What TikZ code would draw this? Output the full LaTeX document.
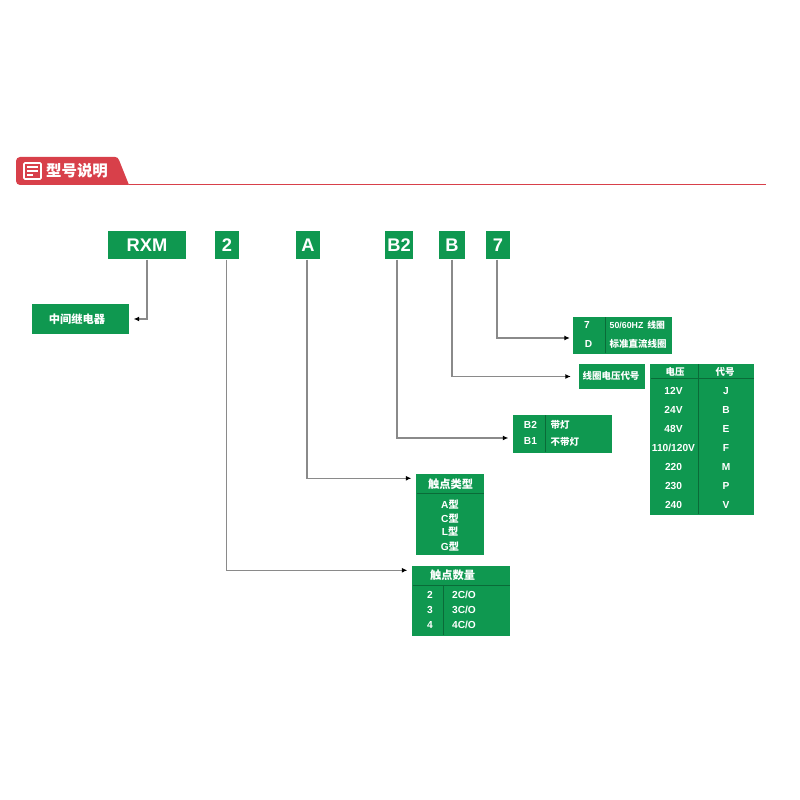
\documentclass[tikz,border=0pt]{standalone}
\usepackage{fontspec}
\setmainfont{Liberation Sans}
\newfontfamily\cjk{Noto Sans CJK SC}
\usetikzlibrary{arrows.meta}
\definecolor{boxgreen}{HTML}{0F9850}
\definecolor{rulegreen}{HTML}{0A6B38}
\definecolor{tabred}{HTML}{D8404A}
\definecolor{wiregray}{HTML}{8A8A8A}
\begin{document}
\begin{tikzpicture}[
    tag/.style={rectangle, fill=boxgreen, text=white, inner sep=0pt, minimum height=0.28cm, font=\fontsize{5.2}{6}\selectfont\bfseries},
    panel/.style={rectangle, fill=boxgreen, inner sep=0pt},
    txt/.style={text=white, inner sep=0pt, font=\fontsize{2.9}{3.4}\selectfont\bfseries},
    head/.style={text=white, inner sep=0pt, font=\fontsize{3.2}{3.8}\selectfont\cjk\bfseries},
    small/.style={text=white, inner sep=0pt, font=\fontsize{2.7}{3.2}\selectfont\cjk\bfseries},
    wire/.style={wiregray, line width=0.3pt, -{Latex[length=0.55mm,width=0.5mm,black]}, shorten >=0.04cm},
    divider/.style={rulegreen, line width=0.3pt, shorten <=0.012cm, shorten >=0.012cm}
]
\useasboundingbox (0,0) rectangle (8,8);

% Titel
\fill[tabred] (1.29,6.15) -- (0.2,6.15) to[out=180,in=-90] (0.16,6.19) -- (0.16,6.39) to[out=90,in=180] (0.2,6.43) -- (1.15,6.43) to[out=0,in=110] (1.19,6.40) -- cycle;
\draw[tabred, line width=0.45pt] (1.29,6.155) -- (7.66,6.155);
\draw[white, line width=0.45pt, rounded corners=0.01cm] (0.24,6.21) rectangle (0.41,6.37);
\draw[white, line width=0.4pt] (0.27,6.33) -- (0.38,6.33);
\draw[white, line width=0.4pt] (0.27,6.29) -- (0.38,6.29);
\draw[white, line width=0.4pt] (0.27,6.25) -- (0.33,6.25);
\node[text=white, inner sep=0pt, font=\fontsize{4.4}{5}\selectfont\cjk\bfseries] (title) at (0.77,6.29) {型号说明};

% Kopf
\node[tag, minimum width=0.775cm] (rxm) at (1.47,5.55) {RXM};
\node[tag, minimum width=0.24cm] (n2) at (2.27,5.55) {2};
\node[tag, minimum width=0.24cm] (a) at (3.08,5.55) {A};
\node[tag, minimum width=0.28cm] (b2) at (3.99,5.55) {B2};
\node[tag, minimum width=0.26cm] (b) at (4.52,5.55) {B};
\node[tag, minimum width=0.24cm] (n7) at (4.98,5.55) {7};

% Kaesten
\node[panel, minimum width=0.975cm, minimum height=0.30cm] (relay) at (0.8025,4.81) {};
\node[panel, minimum width=0.99cm, minimum height=0.37cm] (coil) at (6.225,4.645) {};
\node[panel, minimum width=0.66cm, minimum height=0.25cm] (volts) at (6.12,4.235) {};
\node[panel, minimum width=1.04cm, minimum height=1.51cm] (table) at (7.02,3.605) {};
\node[panel, minimum width=0.99cm, minimum height=0.38cm] (lamp) at (5.625,3.66) {};
\node[panel, minimum width=0.68cm, minimum height=0.81cm] (type) at (4.5,2.855) {};
\node[panel, minimum width=0.98cm, minimum height=0.70cm] (count) at (4.61,1.99) {};

% Trennlinien
\draw[divider] ([xshift=0.33cm]coil.north west) -- ([xshift=0.33cm]coil.south west);
\draw[divider] ([xshift=0.49cm]table.north west) -- ([xshift=0.49cm]table.south west);
\draw[divider] ([yshift=-0.15cm]table.north west) -- ([yshift=-0.15cm]table.north east);
\draw[divider] ([xshift=0.335cm]lamp.north west) -- ([xshift=0.335cm]lamp.south west);
\draw[divider] ([yshift=-0.20cm]type.north west) -- ([yshift=-0.20cm]type.north east);
\draw[divider] ([yshift=-0.20cm]count.north west) -- ([yshift=-0.20cm]count.north east);
\draw[divider] ([xshift=0.325cm,yshift=-0.20cm]count.north west) -- ([xshift=0.325cm]count.south west);

% Verbindungen
\draw[wire] (rxm.south) |- (relay.east);
\draw[wire] ([xshift=-0.005cm]n2.south) |- ([yshift=-0.05cm]count.north west);
\draw[wire] ([xshift=-0.01cm]a.south) |- ([yshift=-0.05cm]type.north west);
\draw[wire] ([xshift=-0.02cm]b2.south) |- ([yshift=-0.04cm]lamp.west);
\draw[wire, shorten >=0.075cm] (b.south) |- (volts.west);
\draw[wire, shorten >=0.025cm] ([xshift=-0.01cm]n7.south) |- ([yshift=-0.025cm]coil.west);

% Text
\node[head] (relaytxt) at (0.77,4.805) {中间继电器};

\node[txt] (c7) at (5.87,4.75) {7};
\node[txt] (cd) at (5.885,4.56) {D};
\node[txt, anchor=west, font=\fontsize{2.5}{3}\selectfont\bfseries] (c50) at (6.09,4.75) {50/60HZ\, {\cjk 线圈}};
\node[small, anchor=west] (cstd) at (6.09,4.56) {标准直流线圈};

\node[small] (voltstxt) at (6.11,4.24) {线圈电压代号};

\node[small] (hv) at (6.75,4.28) {电压};
\node[small] (hc) at (7.25,4.28) {代号};
\node[txt] (v12) at (6.735,4.09) {12V};
\node[txt] (v24) at (6.735,3.90) {24V};
\node[txt] (v48) at (6.735,3.71) {48V};
\node[txt] (v110) at (6.735,3.52) {110/120V};
\node[txt] (v220) at (6.735,3.33) {220};
\node[txt] (v230) at (6.735,3.14) {230};
\node[txt] (v240) at (6.735,2.95) {240};
\node[txt] (cj) at (7.26,4.09) {J};
\node[txt] (cb) at (7.26,3.90) {B};
\node[txt] (ce) at (7.26,3.71) {E};
\node[txt] (cf) at (7.26,3.52) {F};
\node[txt] (cm) at (7.26,3.33) {M};
\node[txt] (cp) at (7.26,3.14) {P};
\node[txt] (cv) at (7.26,2.95) {V};

\node[txt] (lb2) at (5.305,3.75) {B2};
\node[txt] (lb1) at (5.305,3.59) {B1};
\node[small, anchor=west] (lon) at (5.50,3.75) {带灯};
\node[small, anchor=west] (loff) at (5.50,3.58) {不带灯};

\node[head] (typetxt) at (4.505,3.16) {触点类型};
\node[txt] (ta) at (4.50,2.95) {A{\cjk 型}};
\node[txt] (tc) at (4.50,2.815) {C{\cjk 型}};
\node[txt] (tl) at (4.50,2.68) {L{\cjk 型}};
\node[txt] (tg) at (4.50,2.53) {G{\cjk 型}};

\node[head] (counttxt) at (4.525,2.245) {触点数量};
\node[txt] (k2) at (4.30,2.05) {2};
\node[txt] (k3) at (4.30,1.90) {3};
\node[txt] (k4) at (4.30,1.75) {4};
\node[txt] (o2) at (4.64,2.05) {2C/O};
\node[txt] (o3) at (4.64,1.90) {3C/O};
\node[txt] (o4) at (4.64,1.75) {4C/O};
\end{tikzpicture}
\end{document}
